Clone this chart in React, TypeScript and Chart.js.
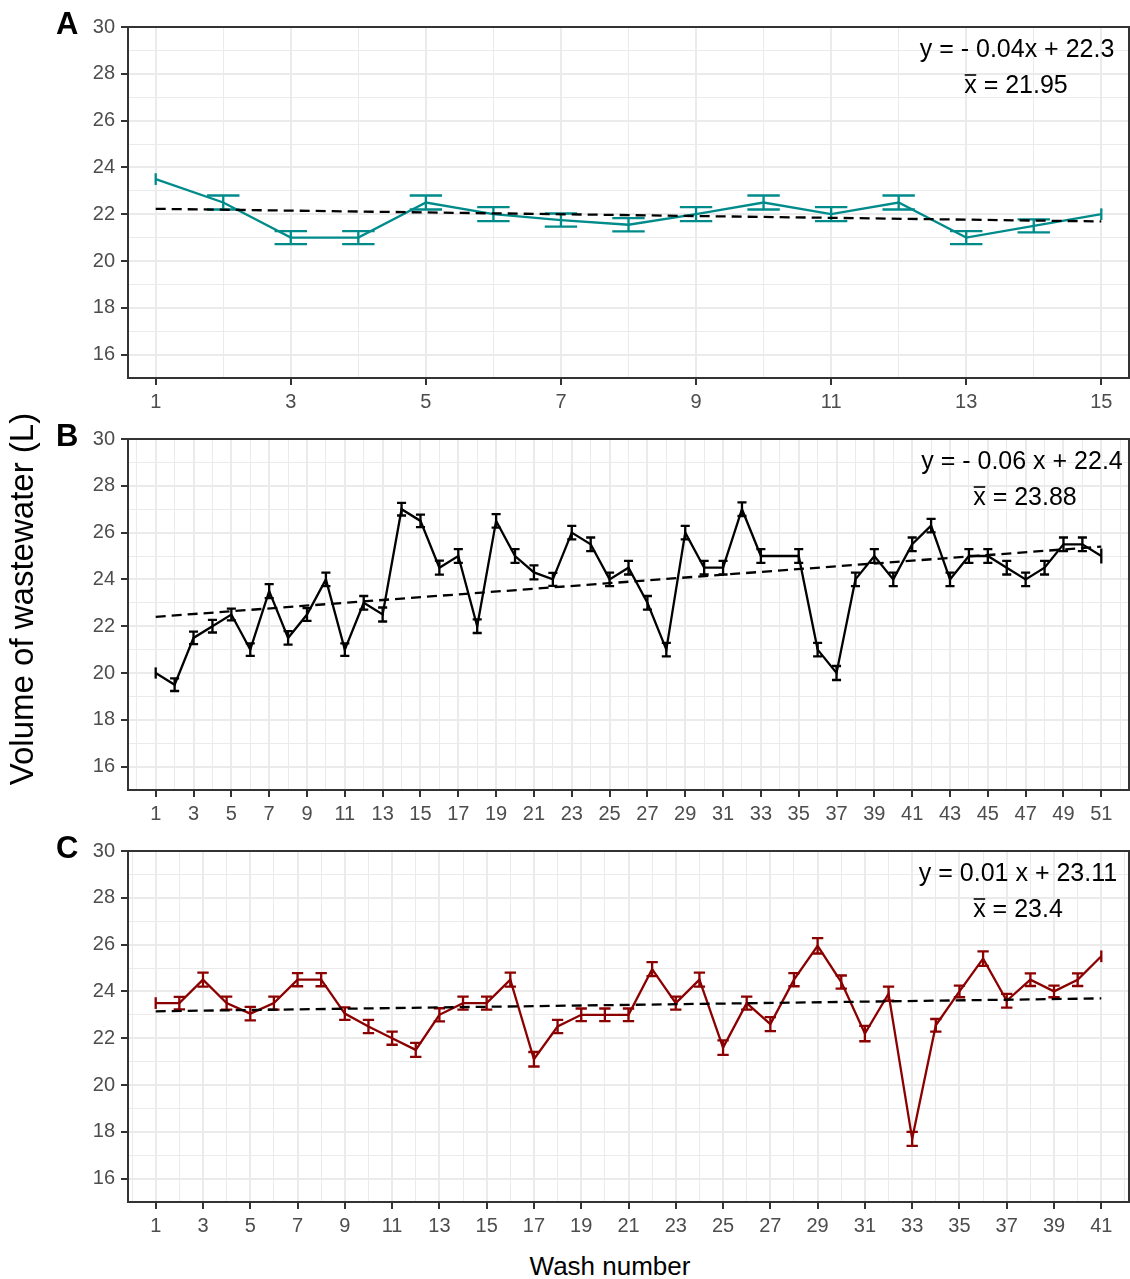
import React, { useEffect, useRef } from 'react';
import { Chart, registerables } from 'chart.js';

Chart.register(...registerables);

const FONT = "'Liberation Sans', Arial, Helvetica, sans-serif";

// ---------- Panel A ----------
const washA = [1, 2, 3, 4, 5, 6, 7, 8, 9, 10, 11, 12, 13, 14, 15];
const volumeA = [23.5, 22.5, 21.0, 21.0, 22.5, 22.0, 21.75, 21.55, 22.0, 22.5, 22.0, 22.5, 21.0, 21.5, 22.0];
const errorA = [0.25, 0.3, 0.28, 0.28, 0.3, 0.3, 0.28, 0.28, 0.3, 0.3, 0.3, 0.3, 0.28, 0.28, 0.25];
const trendA = [22.23, 21.69]; // fitted line at first and last wash
const equationA = 'y = - 0.04x + 22.3';
const meanA = '21.95';

// ---------- Panel B ----------
const washB = [1, 2, 3, 4, 5, 6, 7, 8, 9, 10, 11, 12, 13, 14, 15, 16, 17, 18, 19, 20, 21, 22, 23, 24, 25, 26,
  27, 28, 29, 30, 31, 32, 33, 34, 35, 36, 37, 38, 39, 40, 41, 42, 43, 44, 45, 46, 47, 48, 49, 50, 51];
const volumeB = [20.0, 19.5, 21.5, 22.0, 22.5, 21.0, 23.5, 21.5, 22.5, 24.0, 21.0, 23.0, 22.5, 27.0, 26.5, 24.5,
  25.0, 22.0, 26.5, 25.0, 24.3, 24.0, 26.0, 25.5, 24.0, 24.5, 23.0, 21.0, 26.0, 24.5, 24.5, 27.0, 25.0, 25.0,
  25.0, 21.0, 20.0, 24.0, 25.0, 24.0, 25.5, 26.3, 24.0, 25.0, 25.0, 24.5, 24.0, 24.5, 25.5, 25.5, 25.0];
const errorB = [0.24, 0.27, 0.27, 0.27, 0.25, 0.27, 0.3, 0.29, 0.27, 0.29, 0.27, 0.29, 0.3, 0.27, 0.27, 0.3,
  0.29, 0.29, 0.29, 0.29, 0.3, 0.28, 0.29, 0.29, 0.29, 0.29, 0.29, 0.29, 0.29, 0.29, 0.29, 0.29, 0.29, 0,
  0.29, 0.29, 0.3, 0.29, 0.29, 0.29, 0.29, 0.29, 0.29, 0.29, 0.29, 0.29, 0.29, 0.29, 0.29, 0.29, 0.32];
const trendB = [22.4, 25.4];
const equationB = 'y = - 0.06 x + 22.4';
const meanB = '23.88';

// ---------- Panel C ----------
const washC = [1, 2, 3, 4, 5, 6, 7, 8, 9, 10, 11, 12, 13, 14, 15, 16, 17, 18, 19, 20, 21, 22, 23, 24, 25, 26,
  27, 28, 29, 30, 31, 32, 33, 34, 35, 36, 37, 38, 39, 40, 41];
const volumeC = [23.5, 23.5, 24.5, 23.5, 23.05, 23.5, 24.5, 24.5, 23.05, 22.5, 22.0, 21.5, 23.0, 23.5, 23.5,
  24.5, 21.1, 22.5, 23.0, 23.0, 23.0, 24.95, 23.5, 24.5, 21.6, 23.5, 22.6, 24.5, 25.95, 24.4, 22.2, 23.9,
  17.7, 22.55, 24.0, 25.4, 23.6, 24.5, 24.0, 24.5, 25.5];
const errorC = [0.25, 0.27, 0.3, 0.28, 0.29, 0.28, 0.28, 0.28, 0.27, 0.28, 0.28, 0.3, 0.28, 0.28, 0.28, 0.3,
  0.31, 0.28, 0.27, 0.27, 0.27, 0.3, 0.28, 0.3, 0.31, 0.28, 0.3, 0.28, 0.33, 0.28, 0.33, 0.3, 0.3, 0.27,
  0.25, 0.31, 0.29, 0.27, 0.25, 0.27, 0.25];
const trendC = [23.15, 23.7];
const equationC = 'y = 0.01 x + 23.11';
const meanC = '23.4';

// ---------- shared axis ----------
const yTickLabels = [16, 18, 20, 22, 24, 26, 28, 30];
const yMinorTicks = [17, 19, 21, 23, 25, 27, 29];
const yLimits = [15, 30];

const yTitle = 'Volume of wastewater (L)';
const xTitle = 'Wash number';

type Panel = {
  letter: string;
  wash: number[];
  volume: number[];
  error: number[];
  trend: number[];
  equation: string;
  mean: string;
  color: string;
  eqOff: number;
  meanOff: number;
  top: number;
};

const panels: Panel[] = [
  { letter: 'A', wash: washA, volume: volumeA, error: errorA, trend: trendA, equation: equationA, mean: meanA,
    color: '#008B8B', eqOff: 112, meanOff: 113, top: 0 },
  { letter: 'B', wash: washB, volume: volumeB, error: errorB, trend: trendB, equation: equationB, mean: meanB,
    color: '#000000', eqOff: 107, meanOff: 104, top: 412 },
  { letter: 'C', wash: washC, volume: volumeC, error: errorC, trend: trendC, equation: equationC, mean: meanC,
    color: '#8B0000', eqOff: 111, meanOff: 111, top: 824 },
];

const CANVAS_W = 1130;
const CANVAS_H = 412;
const LINE_W = 2.3;

function makeDecor(p: Panel) {
  return {
    id: 'decor' + p.letter,
    beforeDatasetsDraw(chart: any) {
      const { ctx, scales } = chart;
      const x = scales.x;
      const y = scales.y;
      const n = p.wash.length;
      const capHalf = 0.24;
      ctx.save();
      ctx.strokeStyle = p.color;
      ctx.lineWidth = LINE_W;
      p.wash.forEach((w, i) => {
        const e = p.error[i];
        if (!e) return;
        const px = x.getPixelForValue(w);
        const top = y.getPixelForValue(p.volume[i] + e);
        const bot = y.getPixelForValue(p.volume[i] - e);
        ctx.beginPath();
        ctx.moveTo(px, top);
        ctx.lineTo(px, bot);
        if (i > 0 && i < n - 1) {
          const l = x.getPixelForValue(w - capHalf);
          const r = x.getPixelForValue(w + capHalf);
          ctx.moveTo(l, top);
          ctx.lineTo(r, top);
          ctx.moveTo(l, bot);
          ctx.lineTo(r, bot);
        }
        ctx.stroke();
      });
      ctx.restore();
    },
    afterDraw(chart: any) {
      const { ctx, chartArea: ca } = chart;
      ctx.save();
      ctx.strokeStyle = '#333333';
      ctx.lineWidth = 2;
      ctx.strokeRect(ca.left, ca.top, ca.right - ca.left, ca.bottom - ca.top);

      ctx.fillStyle = '#000000';
      ctx.font = `bold 31px ${FONT}`;
      ctx.textAlign = 'left';
      ctx.textBaseline = 'alphabetic';
      ctx.fillText(p.letter, 56, 34);

      ctx.font = `25px ${FONT}`;
      ctx.textAlign = 'center';
      ctx.fillText(p.equation, ca.right - p.eqOff, ca.top + 30);

      const meanText = 'x = ' + p.mean;
      const w = ctx.measureText(meanText).width;
      const sx = ca.right - p.meanOff - w / 2;
      const base = ca.top + 66;
      ctx.textAlign = 'left';
      ctx.fillText(meanText, sx, base);
      const xw = ctx.measureText('x').width;
      ctx.lineWidth = 1.6;
      ctx.strokeStyle = '#000000';
      ctx.beginPath();
      ctx.moveTo(sx + 0.5, base - 18);
      ctx.lineTo(sx + xw - 0.5, base - 18);
      ctx.stroke();
      ctx.restore();
    },
  };
}

function PanelChart({ p }: { p: Panel }) {
  const ref = useRef<HTMLCanvasElement>(null);
  useEffect(() => {
    if (!ref.current) return;
    const n = p.wash.length;
    const first = p.wash[0];
    const last = p.wash[n - 1];
    const pad = (last - first) * 0.0293;
    const xMin = first - pad;
    const xMax = last + pad;
    const xLabelled = p.wash.filter((_, i) => i % 2 === 0);
    const xGrid: number[] = [];
    for (let v = Math.ceil(xMin); v <= Math.floor(xMax); v++) xGrid.push(v);
    const isMajorX = (v: number) => xLabelled.includes(v);
    const isMajorY = (v: number) => yTickLabels.includes(v);
    const yGrid = [...yTickLabels, ...yMinorTicks].sort((a, b) => a - b);

    const chart = new Chart(ref.current, {
      type: 'line',
      data: {
        datasets: [
          {
            label: 'trend',
            data: [
              { x: first, y: p.trend[0] },
              { x: last, y: p.trend[1] },
            ],
            borderColor: '#000000',
            borderWidth: LINE_W,
            borderDash: [10, 6],
            pointRadius: 0,
            fill: false,
          },
          {
            label: 'volume',
            data: p.wash.map((w, i) => ({ x: w, y: p.volume[i] })),
            borderColor: p.color,
            borderWidth: LINE_W,
            pointRadius: 0,
            fill: false,
            tension: 0,
          },
        ],
      },
      options: {
        animation: false,
        responsive: false,
        maintainAspectRatio: false,
        devicePixelRatio: 1,
        events: [],
        layout: { padding: { top: 27, right: 1, left: 0, bottom: 0 } },
        plugins: {
          legend: { display: false },
          tooltip: { enabled: false },
        },
        scales: {
          x: {
            type: 'linear',
            min: xMin,
            max: xMax,
            afterBuildTicks: (axis: any) => {
              axis.ticks = xGrid.map((v) => ({ value: v }));
            },
            afterFit: (axis: any) => {
              axis.height = CANVAS_H - 27 - 351;
            },
            border: { display: false },
            grid: {
              color: '#EBEBEB',
              lineWidth: (c: any) => (c.tick && isMajorX(c.tick.value) ? 2 : 1),
              tickLength: 7,
              tickWidth: 2,
              tickColor: (c: any) => (c.tick && isMajorX(c.tick.value) ? '#333333' : 'rgba(0,0,0,0)'),
            },
            ticks: {
              autoSkip: false,
              maxRotation: 0,
              minRotation: 0,
              padding: 5,
              color: '#4D4D4D',
              font: { family: FONT, size: 20 },
              callback: (v: any) => (isMajorX(Number(v)) ? String(v) : ''),
            },
          },
          y: {
            type: 'linear',
            min: yLimits[0],
            max: yLimits[1],
            afterBuildTicks: (axis: any) => {
              axis.ticks = yGrid.map((v) => ({ value: v }));
            },
            afterFit: (axis: any) => {
              axis.width = 128;
            },
            border: { display: false },
            grid: {
              color: '#EBEBEB',
              lineWidth: (c: any) => (c.tick && isMajorY(c.tick.value) ? 2 : 1),
              tickLength: 7,
              tickWidth: 2,
              tickColor: (c: any) => (c.tick && isMajorY(c.tick.value) ? '#333333' : 'rgba(0,0,0,0)'),
            },
            ticks: {
              autoSkip: false,
              padding: 6,
              color: '#4D4D4D',
              font: { family: FONT, size: 20 },
              callback: (v: any) => (isMajorY(Number(v)) ? String(v) : ''),
            },
          },
        },
      },
      plugins: [makeDecor(p)],
    } as any);
    return () => chart.destroy();
  }, [p]);

  return (
    <canvas
      ref={ref}
      width={CANVAS_W}
      height={CANVAS_H}
      style={{ position: 'absolute', left: 0, top: p.top, width: CANVAS_W, height: CANVAS_H }}
    />
  );
}

export default function App() {
  return (
    <div
      style={{
        position: 'absolute',
        left: 0,
        top: 0,
        width: 1130,
        height: 1279,
        background: '#ffffff',
        fontFamily: FONT,
        overflow: 'hidden',
      }}
    >
      {panels.map((p) => (
        <PanelChart key={p.letter} p={p} />
      ))}
      <div
        style={{
          position: 'absolute',
          left: 22 - 250,
          top: 599 - 20,
          width: 500,
          height: 40,
          lineHeight: '40px',
          textAlign: 'center',
          fontSize: 33,
          color: '#000',
          transform: 'rotate(-90deg)',
          transformOrigin: '50% 50%',
          whiteSpace: 'nowrap',
        }}
      >
        {yTitle}
      </div>
      <div
        style={{
          position: 'absolute',
          left: 0,
          top: 1251,
          width: 1220,
          height: 30,
          lineHeight: '30px',
          textAlign: 'center',
          fontSize: 26,
          color: '#000',
          whiteSpace: 'nowrap',
        }}
      >
        {xTitle}
      </div>
    </div>
  );
}
